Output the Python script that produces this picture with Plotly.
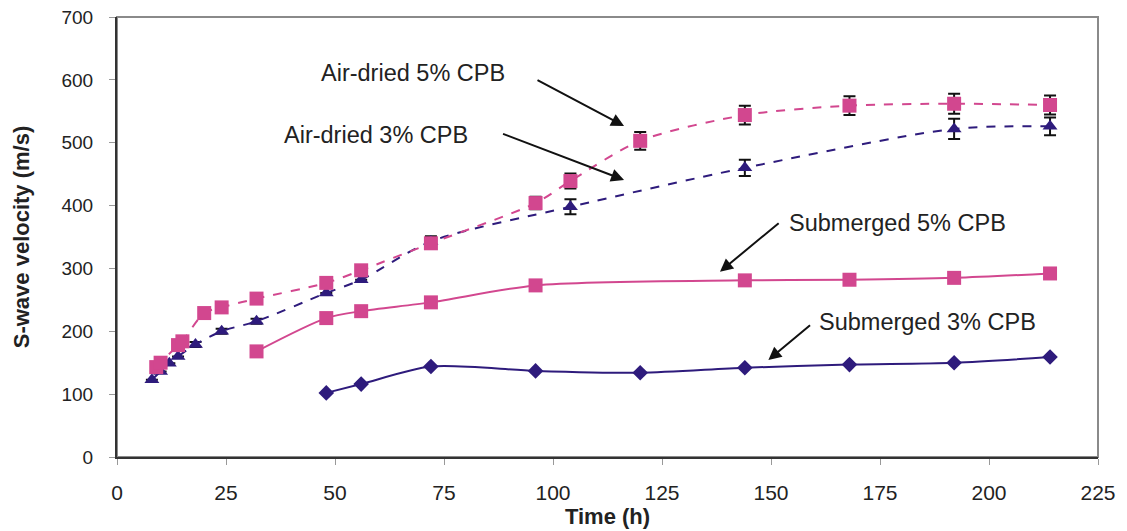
import plotly.graph_objects as go

# Air-dried 5% CPB
ad5_t = [9, 10, 14, 15, 20, 24, 32, 48, 56, 72, 96, 104, 120, 144, 168, 192, 214]
ad5_v = [143, 150, 178, 184, 229, 238, 252, 277, 297, 340, 404, 439, 503, 544, 559, 562, 560]
ad5_e = [0, 0, 0, 0, 0, 0, 0, 0, 0, 8, 10, 12, 14, 15, 15, 16, 15]

# Air-dried 3% CPB
ad3_t = [8, 10, 12, 14, 18, 24, 32, 48, 56, 72, 104, 144, 192, 214]
ad3_v = [123, 136, 149, 160, 179, 200, 216, 261, 282, 343, 398, 460, 522, 526]
ad3_e = [0, 0, 0, 0, 4, 4, 4, 0, 0, 8, 12, 13, 16, 14]

# Submerged 5% CPB
sm5_t = [32, 48, 56, 72, 96, 144, 168, 192, 214]
sm5_v = [168, 221, 232, 246, 273, 281, 282, 285, 292]

# Submerged 3% CPB
sm3_t = [48, 56, 72, 96, 120, 144, 168, 192, 214]
sm3_v = [102, 116, 144, 137, 134, 142, 147, 150, 159]

x_ticks = [0, 25, 50, 75, 100, 125, 150, 175, 200, 225]
y_ticks = [0, 100, 200, 300, 400, 500, 600, 700]

PINK = "#d2478f"
NAVY = "#2e1b7c"

fig = go.Figure()

fig.add_trace(go.Scatter(
    x=sm5_t, y=sm5_v, mode="lines+markers", name="Submerged 5% CPB",
    line=dict(color=PINK, width=2, shape="spline", smoothing=0.8),
    marker=dict(symbol="square", size=14, color=PINK)))

fig.add_trace(go.Scatter(
    x=sm3_t, y=sm3_v, mode="lines+markers", name="Submerged 3% CPB",
    line=dict(color=NAVY, width=2, shape="spline", smoothing=0.8),
    marker=dict(symbol="diamond", size=12, color=NAVY)))

fig.add_trace(go.Scatter(
    x=ad3_t, y=ad3_v, mode="lines+markers", name="Air-dried 3% CPB",
    line=dict(color=NAVY, width=2, dash="dash", shape="spline", smoothing=0.8),
    marker=dict(symbol="triangle-up", size=13, color=NAVY),
    error_y=dict(type="data", array=ad3_e, color="#111111", thickness=2, width=6)))

fig.add_trace(go.Scatter(
    x=ad5_t, y=ad5_v, mode="lines+markers", name="Air-dried 5% CPB",
    line=dict(color=PINK, width=2, dash="dash", shape="spline", smoothing=0.8),
    marker=dict(symbol="square", size=14, color=PINK),
    error_y=dict(type="data", array=ad5_e, color="#111111", thickness=2, width=6)))

FONT = "Liberation Sans, Arial, sans-serif"

texts = [
    ("Air-dried 5% CPB", 67.8, 611),
    ("Air-dried 3% CPB", 59.5, 512),
    ("Submerged 5% CPB", 179, 372),
    ("Submerged 3% CPB", 186, 215),
]
for txt, tx, ty in texts:
    fig.add_annotation(x=tx, y=ty, text=txt, showarrow=False,
                       font=dict(family=FONT, size=23.5, color="#222222"),
                       xanchor="center", yanchor="middle")

arrows = [
    (96.1, 601, 116.3, 526.6),
    (88.2, 515, 116.3, 440.7),
    (152.1, 374, 138.3, 294.8),
    (159.3, 211.6, 149.4, 154.3),
]
for ax_, ay_, hx, hy in arrows:
    fig.add_annotation(x=hx, y=hy, ax=ax_, ay=ay_, axref="x", ayref="y",
                       text="", showarrow=True, arrowhead=2, arrowsize=1.3,
                       arrowwidth=2, arrowcolor="#111111")

# gray frame (top/right)
fig.add_shape(type="rect", xref="paper", yref="paper", x0=0, y0=0, x1=1, y1=1,
              line=dict(color="#8a8a8a", width=2), layer="below")

# the page body adds an 8px margin, so the figure is sized to fit inside it
fig.update_layout(
    width=1119, height=523,
    margin=dict(l=109, r=29, t=9, b=74),
    paper_bgcolor="white", plot_bgcolor="white",
    showlegend=False,
    font=dict(family=FONT, color="#222222"),
)

fig.update_xaxes(
    range=[0, 225], tickvals=x_ticks, ticktext=[str(v) for v in x_ticks],
    automargin=False, ticklabeloverflow="allow",
    showgrid=False, zeroline=False, showline=True, linecolor="#333333", linewidth=2,
    ticks="outside", ticklen=6, tickcolor="#999999", tickwidth=1,
    tickfont=dict(family=FONT, size=21, color="#222222"), ticklabelstandoff=10,
    title=dict(text="<b>Time (h)</b>", font=dict(family=FONT, size=22, color="#222222"), standoff=0),
)
fig.update_yaxes(
    range=[0, 700], tickvals=y_ticks, ticktext=[str(v) for v in y_ticks],
    automargin=False, ticklabeloverflow="allow",
    showgrid=False, zeroline=False, showline=True, linecolor="#333333", linewidth=2,
    ticks="outside", ticklen=6, tickcolor="#999999", tickwidth=1,
    tickfont=dict(family=FONT, size=19, color="#222222"), ticklabelstandoff=12,
    title=dict(text="<b>S-wave velocity (m/s)</b>", font=dict(family=FONT, size=22, color="#222222"), standoff=26),
)

fig.write_html("out.html")
